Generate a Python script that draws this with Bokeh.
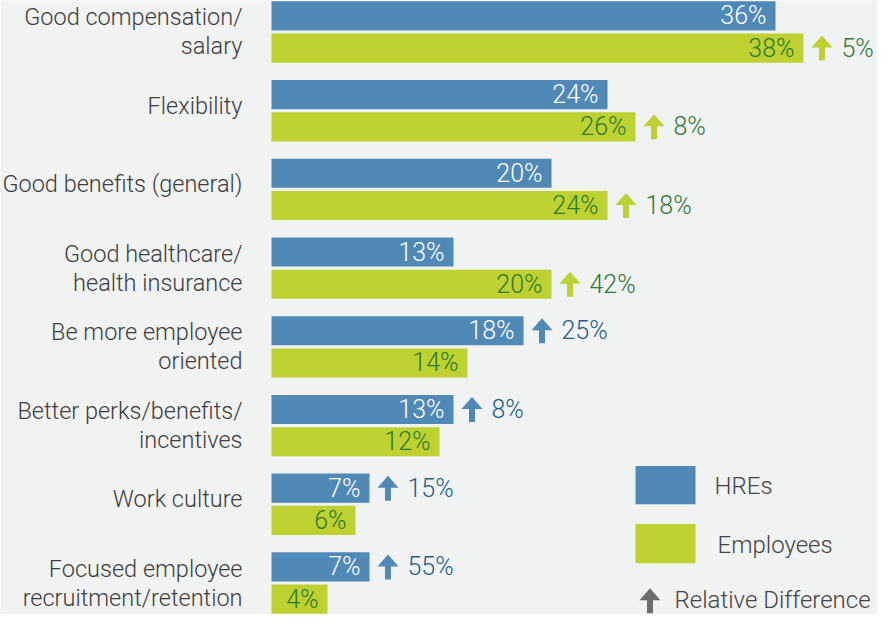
from bokeh.plotting import figure
from bokeh.models import Range1d
from bokeh.core.properties import value
from bokeh.embed import file_html
from bokeh.resources import INLINE

# ---- data ----
categories = [
    "Good compensation/\nsalary",
    "Flexibility",
    "Good benefits (general)",
    "Good healthcare/\nhealth insurance",
    "Be more employee\noriented",
    "Better perks/benefits/\nincentives",
    "Work culture",
    "Focused employee\nrecruitment/retention",
]
hres = [36, 24, 20, 13, 18, 13, 7, 7]
employees = [38, 26, 24, 20, 14, 12, 6, 4]
rel_diff = [5, 8, 18, 42, 25, 8, 15, 55]
rel_leader = ["Employees", "Employees", "Employees", "Employees", "HREs", "HREs", "HREs", "HREs"]
legend_labels = ["HREs", "Employees", "Relative Difference"]

# ---- styles ----
BG = "#f1f2f2"
BLUE = "#5089b6"
GREEN = "#bdd131"
GRAY = "#6d6e70"
LABEL_C = "#3d3d3d"
DKGREEN = "#2e7a35"
DKBLUE = "#1d5f8a"
FONT = "Roboto Light"

W, H = 877, 614
PPX = 14.0
X0 = 271
x_start = -X0 / PPX
x_end = x_start + W / PPX
y_top, y_bot = -0.40, 7.40
PPY = H / (y_bot - y_top)

OFF = 0.205
BH = 0.37

def px2x(px):
    return x_start + px / PPX

def px2y(py):
    return y_top + py / PPY

p = figure(width=W, height=H, x_range=Range1d(x_start, x_end),
           y_range=Range1d(y_bot, y_top), output_backend="svg",
           toolbar_location=None, min_border=0,
           background_fill_color=BG, border_fill_color=BG,
           outline_line_color=None)
p.axis.visible = False
p.grid.visible = False

n = len(categories)
yb = [i - OFF for i in range(n)]
yg = [i + OFF for i in range(n)]

p.hbar(y=yb, left=0, right=hres, height=BH, color=BLUE, line_color=None)
p.hbar(y=yg, left=0, right=employees, height=BH, color=GREEN, line_color=None)

# values inside bars
p.text(x=hres, y=yb, text=[f"{v}%" for v in hres], x_offset=-9,
       text_align="right", text_baseline="middle", text_color="white",
       text_font=value(FONT), text_font_size="25px")
p.text(x=employees, y=yg, text=[f"{v}%" for v in employees], x_offset=-9,
       text_align="right", text_baseline="middle", text_color=DKGREEN,
       text_font=value(FONT), text_font_size="25px")

# category labels
lx, ly, lt = [], [], []
for i, cat in enumerate(categories):
    lines = cat.split("\n")
    m = len(lines)
    base = i if m > 1 else i - 5 / PPY
    for j, line in enumerate(lines):
        lx.append(0)
        ly.append(base + (j - (m - 1) / 2) * 29 / PPY)
        lt.append(line)
p.text(x=lx, y=ly, text=lt, x_offset=-29, text_align="right",
       text_baseline="middle", text_color=LABEL_C,
       text_font=value(FONT), text_font_size="23.5px")

# arrows
def arrow_shape(x_left_px, yc_px):
    pts = [(10.5, -12.5), (21, -0.5), (13.5, -0.5), (13.5, 12.5),
           (7.5, 12.5), (7.5, -0.5), (0, -0.5)]
    return ([x_left_px + a for a, b in pts], [yc_px + b for a, b in pts])

axs, ays, acol = [], [], []
rx, ry, rt, rc = [], [], [], []
for i in range(n):
    if rel_leader[i] == "HREs":
        v, yc, col, tcol = hres[i], yb[i], BLUE, DKBLUE
    else:
        v, yc, col, tcol = employees[i], yg[i], GREEN, DKGREEN
    xpx = X0 + v * PPX + 8
    ypx = (yc - y_top) * PPY
    xs, ys = arrow_shape(xpx, ypx)
    axs.append([px2x(a) for a in xs])
    ays.append([px2y(b) for b in ys])
    acol.append(col)
    rx.append(v); ry.append(yc); rt.append(f"{rel_diff[i]}%"); rc.append(tcol)

p.patches(xs=axs, ys=ays, fill_color=acol, line_color=None)
p.text(x=rx, y=ry, text=rt, x_offset=38, text_align="left",
       text_baseline="middle", text_color=rc,
       text_font=value(FONT), text_font_size="25px")

# legend (custom)
def ref_y(page_y):
    return (page_y - 8) / 80.0 - 0.4

p.quad(left=[px2x(635), px2x(635)], right=[px2x(695), px2x(695)],
       top=[ref_y(481), ref_y(540)], bottom=[ref_y(520), ref_y(580)],
       fill_color=[BLUE, GREEN], line_color=None)
gx, gy = arrow_shape(639, (ref_y(618) - y_top) * PPY)
p.patches(xs=[[px2x(a) for a in gx]], ys=[[px2y(b) for b in gy]],
          fill_color=GRAY, line_color=None)
p.text(x=[px2x(714), px2x(717), px2x(674)],
       y=[ref_y(501), ref_y(561), ref_y(617)],
       text=legend_labels, text_align="left", text_baseline="middle",
       text_color="#444444", text_font=value(FONT), text_font_size="24px")

open("out.html", "w").write(file_html(p, INLINE))
